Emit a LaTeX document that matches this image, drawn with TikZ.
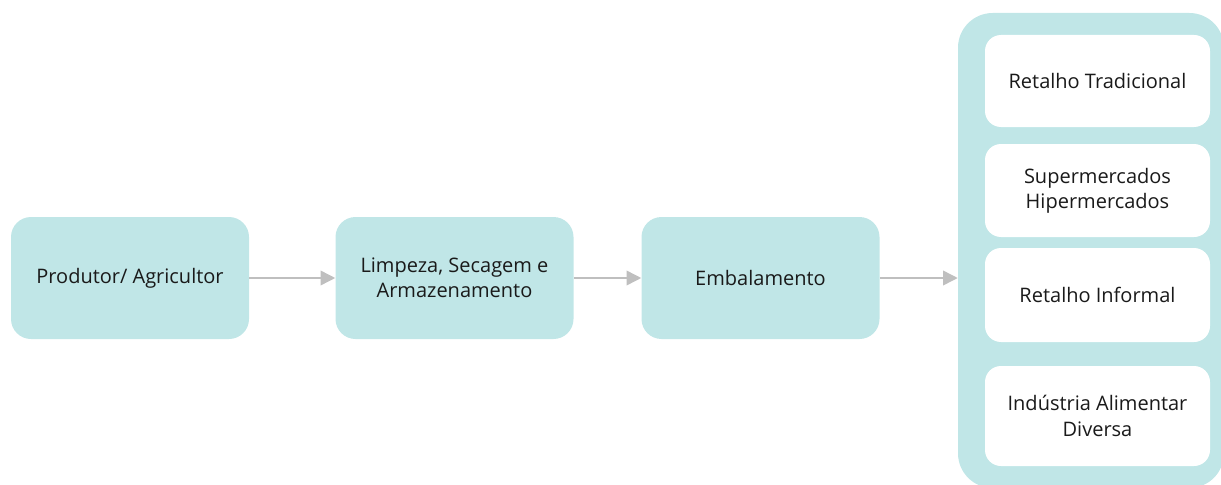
\documentclass[tikz,border=0pt]{standalone}
\usepackage{fontspec}
\setmainfont{Open Sans}
\usepackage{xcolor}
\usepackage{tikz}
\usetikzlibrary{arrows.meta}
\definecolor{teal}{RGB}{192,230,231}
\definecolor{arrowgray}{RGB}{191,191,191}
\definecolor{ink}{RGB}{26,26,26}

\tikzset{
    stage/.style={fill=teal, rounded corners=15pt, minimum width=178.5pt,
        minimum height=91.5pt, align=center, text=ink, font=\fontsize{15}{19}\selectfont},
    outlet/.style={fill=white, rounded corners=12pt, minimum width=168.75pt,
        align=center, text=ink, font=\fontsize{15}{19}\selectfont},
    flow/.style={arrowgray, line width=1.1pt, -{Triangle[length=11pt,width=11pt]}}
}

\begin{document}
\begin{tikzpicture}[x=0.75pt, y=-0.75pt]
    \useasboundingbox (0,0) rectangle (1221,485);
    \clip (0,0) rectangle (1221,485);
    % Chain stages
    \node[stage] (produtor) at (130,278) {Produtor/ Agricultor};
    \node[stage] (limpeza) at (454.5,278) {Limpeza, Secagem e\\Armazenamento};
    \node[stage] (embala) at (760.5,278) {Embalamento};
    % Outlets container
    \node[fill=teal, rounded corners=26pt, minimum width=199.5pt, minimum height=356.25pt] (canais) at (1091,250.5) {};
    \node[outlet, minimum height=69pt] (tradicional) at (1097.5,81) {Retalho Tradicional};
    \node[outlet, minimum height=69.75pt] (super) at (1097.5,190.5) {Supermercados\\Hipermercados};
    \node[outlet, minimum height=70.5pt] (informal) at (1097.5,295) {Retalho Informal};
    \node[outlet, minimum height=75pt] (industria) at (1097.5,416) {Indústria Alimentar\\Diversa};
    % Arrows
    \draw[flow] (produtor) -- (limpeza);
    \draw[flow] (limpeza) -- (embala);
    \draw[flow] (embala.east) -- (embala.east -| canais.west);
\end{tikzpicture}
\end{document}
